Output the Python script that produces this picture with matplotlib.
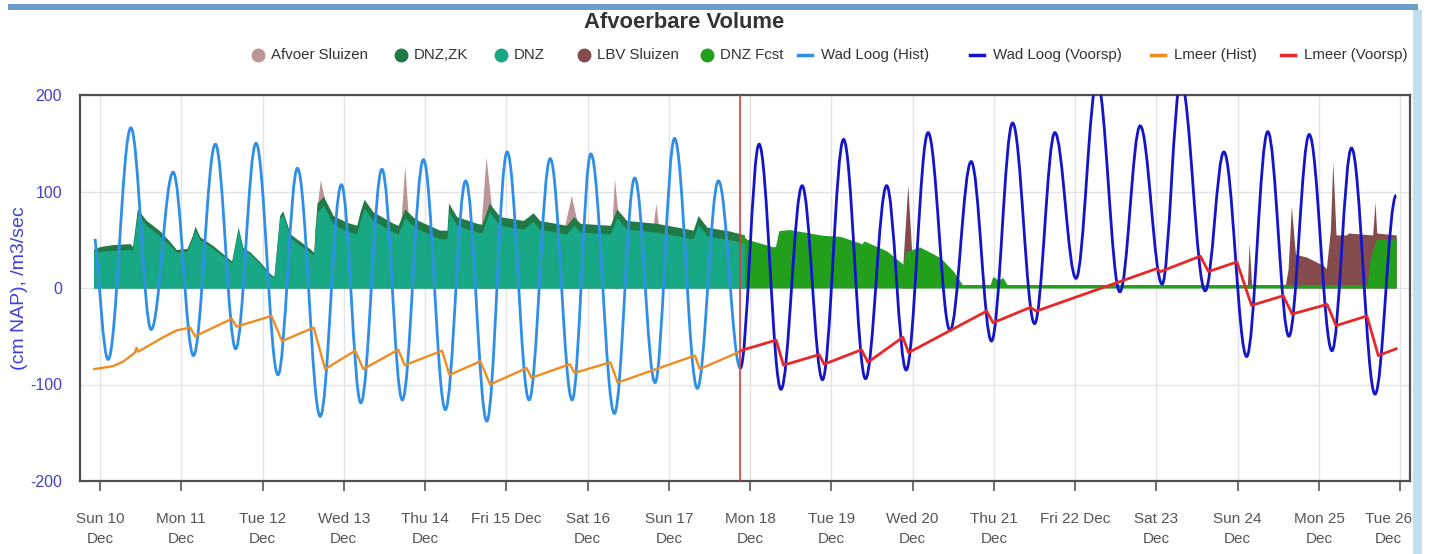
import matplotlib
matplotlib.use("Agg")
import matplotlib.pyplot as plt
from matplotlib import font_manager
from matplotlib.lines import Line2D
from matplotlib.patches import PathPatch, Rectangle
from matplotlib.path import Path
from matplotlib.transforms import ScaledTranslation

# x = days after Sun 10 Dec 00:00
day_labels = ["Sun 10\nDec", "Mon 11\nDec", "Tue 12\nDec", "Wed 13\nDec", "Thu 14\nDec",
              "Fri 15 Dec", "Sat 16\nDec", "Sun 17\nDec", "Mon 18\nDec", "Tue 19\nDec",
              "Wed 20\nDec", "Thu 21\nDec", "Fri 22 Dec", "Sat 23\nDec", "Sun 24\nDec",
              "Mon 25\nDec", "Tue 26\nDec"]
now_day = 7.88

# historic discharge areas
hist_t = [-0.08, 0.00, 0.16, 0.37, 0.40, 0.46, 0.57, 0.74, 0.86, 0.94, 1.07, 1.13, 1.17,
          1.23, 1.39, 1.62, 1.70, 1.76, 1.85, 1.97, 2.09, 2.14, 2.21, 2.25, 2.34, 2.58,
          2.63, 2.67, 2.75, 2.87, 3.04, 3.16, 3.20, 3.25, 3.36, 3.61, 3.67, 3.75, 3.86,
          3.94, 4.18, 4.27, 4.29, 4.39, 4.64, 4.70, 4.79, 4.92, 5.21, 5.33, 5.41, 5.74,
          5.83, 5.91, 6.28, 6.36, 6.48, 6.85, 7.30, 7.36, 7.47, 7.75, 7.93]
dnz_zk = [40, 43, 45, 46, 43, 82, 70, 59, 48, 40, 41, 53, 64,
          53, 44, 28, 63, 42, 37, 27, 15, 12, 75, 80, 56, 41,
          37, 88, 95, 75, 68, 65, 79, 92, 79, 67, 65, 82, 73,
          69, 60, 60, 88, 74, 67, 66, 88, 74, 70, 78, 70, 65,
          74, 67, 65, 82, 70, 67, 60, 75, 63, 59, 55]
dnz = [37, 38, 39, 40, 39, 77, 65, 54, 44, 37, 38, 50, 60,
       50, 41, 26, 60, 40, 35, 25, 13, 11, 72, 76, 52, 37,
       34, 78, 86, 66, 59, 56, 70, 83, 70, 58, 56, 73, 64,
       60, 51, 51, 79, 65, 58, 57, 79, 65, 61, 69, 61, 56,
       65, 58, 56, 73, 61, 58, 51, 66, 54, 50, 47]
afvoer_t = [2.63, 2.64, 2.71, 2.76, 2.77, 3.69, 3.70, 3.75, 3.79, 3.80, 4.68, 4.69, 4.75,
            4.82, 4.83, 5.71, 5.72, 5.80, 5.87, 5.88, 6.29, 6.30, 6.33, 6.37, 6.38, 6.80,
            6.81, 6.84, 6.87, 6.88]
afvoer_v = [0, 60, 112, 94, 0, 0, 66, 127, 78, 0, 0, 66, 136,
            82, 0, 0, 65, 96, 69, 0, 0, 65, 114, 80, 0, 0,
            67, 88, 67, 0]

# forecast discharge areas
fcst_t = [7.88, 7.96, 8.29, 8.33, 8.37, 8.49, 8.90, 9.11, 9.39, 9.41, 9.68, 9.87, 9.90,
          9.93, 10.09, 10.34, 10.50, 10.61, 10.97, 11.00, 11.06, 11.11, 11.16, 15.61,
          15.65, 15.72, 15.95]
fcst_v = [55, 49, 41, 42, 58, 59, 53, 52, 44, 47, 37, 24, 22,
          36, 41, 30, 16, 2, 2, 10, 6, 9, 2, 2,
          30, 49, 50]
lbv_t = [9.87, 9.88, 9.94, 9.99, 10.00, 14.11, 14.12, 14.14, 14.17, 14.18, 14.58, 14.62,
         14.66, 14.71, 14.85, 15.06, 15.09, 15.14, 15.17, 15.21, 15.34, 15.36, 15.66,
         15.69, 15.71, 15.95]
lbv_v = [0, 25, 107, 35, 0, 0, 5, 47, 5, 0, 0, 20,
         85, 35, 32, 23, 20, 60, 131, 55, 55, 57, 55,
         89, 57, 55]

# Waddenzee Lorentzsluizen water level, turning points (high / low water)
wad_hist_t = [-0.06, 0.10, 0.38, 0.63, 0.90, 1.15, 1.42, 1.67, 1.92, 2.19, 2.43, 2.71, 2.97,
              3.21, 3.47, 3.72, 3.98, 4.25, 4.50, 4.76, 5.01, 5.28, 5.54, 5.81, 6.04,
              6.33, 6.58, 6.83, 7.07, 7.35, 7.61, 7.88]
wad_hist_v = [51, -74, 166, -43, 120, -70, 149, -63, 150, -90, 124, -133, 107,
              -119, 123, -116, 133, -126, 111, -138, 141, -116, 134, -116, 139,
              -130, 114, -98, 155, -104, 111, -83]
wad_fc_t = [7.88, 8.11, 8.38, 8.64, 8.89, 9.15, 9.42, 9.68, 9.92, 10.19, 10.46, 10.72,
            10.97, 11.23, 11.50, 11.75, 12.01, 12.27, 12.55, 12.80, 13.07, 13.30, 13.60,
            13.83, 14.11, 14.37, 14.63, 14.88, 15.16, 15.40, 15.69, 15.95]
wad_fc_v = [-83, 149, -105, 106, -95, 154, -94, 106, -85, 161, -44, 131,
            -55, 171, -37, 161, 10, 215, -4, 168, 4, 215, -3,
            141, -71, 162, -50, 159, -65, 145, -110, 96]

# IJsselmeer level
lm_hist_t = [-0.07, 0.16, 0.29, 0.43, 0.45, 0.47, 0.78, 0.94, 1.11, 1.17, 1.62, 1.68, 2.11,
             2.24, 2.63, 2.77, 3.14, 3.24, 3.67, 3.75, 4.21, 4.30, 4.68, 4.80, 5.25,
             5.31, 5.78, 5.84, 6.28, 6.37, 7.32, 7.38, 7.90]
lm_hist_v = [-84, -81, -76, -67, -62, -66, -51, -44, -41, -50, -32, -40, -29,
             -55, -41, -84, -65, -84, -64, -80, -65, -90, -76, -100, -83,
             -93, -79, -88, -77, -98, -70, -84, -65]
lm_fc_t = [7.88, 8.32, 8.41, 8.85, 8.91, 9.37, 9.45, 9.88, 9.95, 10.91, 10.99, 11.45,
           11.52, 13.00, 13.05, 13.54, 13.64, 13.99, 14.17, 14.56, 14.67, 15.10, 15.21,
           15.59, 15.73, 15.95]
lm_fc_v = [-65, -54, -80, -69, -79, -64, -77, -51, -67, -24, -36, -20,
           -24, 20, 17, 33, 17, 27, -18, -8, -27, -17, -39, -29, -70, -63]

legend_names = ["Afvoer Sluizen", "DNZ,ZK", "DNZ", "LBV Sluizen", "DNZ Fcst",
                "Wad Loog (Hist)", "Wad Loog (Voorsp)", "Lmeer (Hist)", "Lmeer (Voorsp)"]
legend_colors = ["#bc9696", "#1f7a45", "#18a886", "#844c4c", "#22a01c",
                 "#2f8fe6", "#1414c8", "#f08c20", "#e82828"]

c_afv, c_zk, c_dnz, c_lbv, c_fc, c_wh, c_wf, c_lh, c_lf = legend_colors

names = {f.name for f in font_manager.fontManager.ttflist}
narrow = "Liberation Sans Narrow" if "Liberation Sans Narrow" in names else "Liberation Sans"
plt.rcParams["font.family"] = [narrow, "DejaVu Sans"]

W, H = 1429, 554
fig = plt.figure(figsize=(W / 100, H / 100), dpi=100)
fig.patch.set_facecolor("white")


def fx(px):
    return px / W


def fy(py):
    return 1 - py / H


ax = fig.add_axes([fx(80), fy(481), fx(1410) - fx(80), fy(95) - fy(481)])


def tide_path(t, v, free_start=False, k=0.364):
    # smooth curve through the turning points, flat at each high/low water
    verts = [(t[0], v[0])]
    codes = [Path.MOVETO]
    for i in range(1, len(t)):
        dt = t[i] - t[i - 1]
        if i == 1 and free_start:
            c1 = (t[0] + dt / 3, v[0] + (v[1] - v[0]) / 3)
        else:
            c1 = (t[i - 1] + k * dt, v[i - 1])
        verts += [c1, (t[i] - k * dt, v[i]), (t[i], v[i])]
        codes += [Path.CURVE4] * 3
    return Path(verts, codes)


# areas
ax.fill_between(afvoer_t, 0, afvoer_v, color=c_afv, lw=0, zorder=2)
ax.fill_between(hist_t, 0, dnz_zk, color=c_zk, lw=0, zorder=3)
ax.fill_between(hist_t, 0, dnz, color=c_dnz, lw=0, zorder=4)
ax.fill_between(lbv_t, 0, lbv_v, color=c_lbv, lw=0, zorder=2)
ax.fill_between(fcst_t, 0, fcst_v, color=c_fc, lw=0, zorder=3)
ax.plot(fcst_t, fcst_v, color=c_fc, lw=1.5, zorder=3)

# lines
ax.add_patch(PathPatch(tide_path(wad_hist_t, wad_hist_v, free_start=True),
                       fill=False, edgecolor=c_wh, lw=2.0, zorder=6))
ax.add_patch(PathPatch(tide_path(wad_fc_t, wad_fc_v),
                       fill=False, edgecolor=c_wf, lw=2.0, zorder=6))
ax.plot(lm_hist_t, lm_hist_v, color=c_lh, lw=1.7, zorder=7)
ax.plot(lm_fc_t, lm_fc_v, color=c_lf, lw=2.0, zorder=7)
ax.axvline(now_day, color="#e03a3a", lw=1.2, zorder=8)

ax.set_xlim(-0.246, 16.12)
ax.set_ylim(-200, 200)
ax.set_xticks(range(len(day_labels)))
ax.set_xticklabels(day_labels, fontsize=11, color="#555555", linespacing=1.5)
ax.set_yticks([-200, -100, 0, 100, 200])
ax.set_yticklabels(["-200", "-100", "0", "100", "200"], fontsize=11.5, color="#4040d0")
ax.tick_params(axis="x", direction="out", length=7.5, width=1.2, color="#555555", pad=15)
ax.tick_params(axis="y", length=0, pad=13)
ax.grid(True, color="#e4e4e4", lw=1, zorder=0)
ax.set_axisbelow(True)
for s in ax.spines.values():
    s.set_color("#505050")
    s.set_linewidth(1.6)

# last day label is pushed left so it stays inside the frame
last = ax.get_xticklabels()[-1]
last.set_transform(last.get_transform() + ScaledTranslation(-0.12, 0, fig.dpi_scale_trans))

ax.set_ylabel("(cm NAP), /m3/sec", fontsize=14, color="#4040d8")
ax.yaxis.set_label_coords(-0.039, 0.5)

# title and legend row
fig.text(fx(684), fy(23), "Afvoerbare Volume", ha="center", va="center",
         fontsize=15.8, fontweight="bold", color="#333333")
legend_x = [258, 401, 501, 584, 707, 805, 977, 1158, 1288]
for i, (name, col) in enumerate(zip(legend_names, legend_colors)):
    x0 = legend_x[i]
    if i < 5:
        fig.add_artist(Line2D([fx(x0)], [fy(55)], marker="o", markersize=9,
                              color=col, lw=0, transform=fig.transFigure))
        tx = x0 + 13
    else:
        fig.add_artist(Line2D([fx(x0 - 7), fx(x0 + 7)], [fy(55), fy(55)], color=col,
                              lw=2.5, transform=fig.transFigure))
        tx = x0 + 16
    fig.text(fx(tx), fy(55), name, ha="left", va="center", fontsize=10.8, color="#333333")

# page frame bits
fig.add_artist(Rectangle((fx(8), fy(10)), fx(1418) - fx(8), fy(4) - fy(10),
                         color="#6c9cc8", transform=fig.transFigure, lw=0))
fig.add_artist(Rectangle((fx(1413), 0), fx(1422) - fx(1413), fy(10),
                         color="#bfe0ef", transform=fig.transFigure, lw=0))

fig.savefig("out.png", dpi=100, facecolor="white")
